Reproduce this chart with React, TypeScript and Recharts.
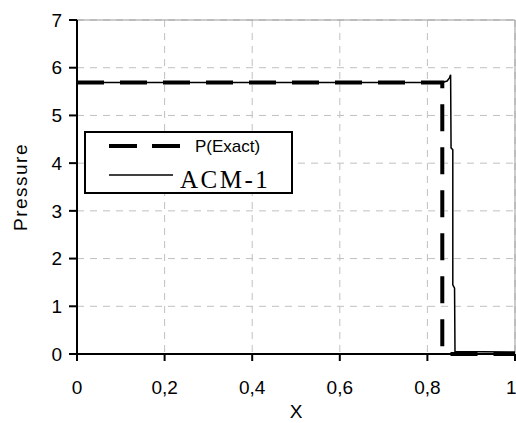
import React from 'react';
import { LineChart, Line, XAxis, YAxis, CartesianGrid, Legend, ReferenceLine } from 'recharts';

// exact solution: flat plateau then a sharp drop at the front
const exactX = [0, 0.834, 0.834, 1];
const exactP = [5.69, 5.69, 0, 0];

// ACM-1 numerical result, small overshoot just before the front
const acmX = [0, 0.834, 0.845, 0.85, 0.853, 0.854, 0.858, 0.858, 0.862, 0.863, 1];
const acmP = [5.69, 5.69, 5.72, 5.78, 5.85, 4.32, 4.28, 1.45, 1.38, 0.05, 0.04];

const xTicks = [0, 0.2, 0.4, 0.6, 0.8, 1];
const yTicks = [0, 1, 2, 3, 4, 5, 6, 7];

const seriesNames = ['P(Exact)', 'ACM-1'];

const exactData = exactX.map((x, i) => ({ x, p: exactP[i] }));
const acmData = acmX.map((x, i) => ({ x, p: acmP[i] }));

const sans = '"Liberation Sans", Arial, sans-serif';
const serif = '"Liberation Serif", "Times New Roman", serif';

const LegendBox = () => (
    <svg width={209} height={63} style={{ display: 'block' }}>
        <rect x={1} y={1} width={207} height={61} fill="#fff" stroke="#000" strokeWidth={2} />
        <line x1={25} x2={97} y1={15} y2={15} stroke="#000" strokeWidth={4} strokeDasharray="28 15" />
        <text x={111} y={15} dominantBaseline="central" fontFamily={sans} fontSize={17}>
            {seriesNames[0]}
        </text>
        <line x1={25} x2={89} y1={44} y2={44} stroke="#000" strokeWidth={1.5} />
        <text x={96} y={57} fontFamily={serif} fontSize={25} letterSpacing={2.5}>
            {seriesNames[1]}
        </text>
    </svg>
);

const App = () => {
    return (
        <div style={{ position: 'absolute', left: 0, top: 0, width: 516, height: 423, background: '#fff' }}>
            <LineChart width={516} height={423} margin={{ top: 20, right: 1, left: 0, bottom: 0 }}>
                <CartesianGrid stroke="#c0c0c0" strokeDasharray="7 6" />
                <XAxis
                    dataKey="x"
                    type="number"
                    domain={[0, 1]}
                    ticks={xTicks}
                    allowDecimals
                    height={69}
                    stroke="#000"
                    strokeWidth={2}
                    tickSize={7}
                    tickMargin={20}
                    tick={{ fill: '#000', fontSize: 19, fontFamily: sans }}
                    tickFormatter={(v: number) => String(v).replace('.', ',')}
                    label={{
                        content: ({ viewBox }: any) => (
                            <text
                                x={viewBox.x + viewBox.width / 2}
                                y={418}
                                textAnchor="middle"
                                fontFamily={sans}
                                fontSize={19}
                                fill="#000"
                            >
                                X
                            </text>
                        )
                    }}
                />
                <YAxis
                    type="number"
                    domain={[0, 7]}
                    ticks={yTicks}
                    width={77}
                    stroke="#000"
                    strokeWidth={2}
                    tickSize={8}
                    tickMargin={7}
                    tick={{ fill: '#000', fontSize: 19, fontFamily: sans }}
                    label={{
                        content: ({ viewBox }: any) => {
                            const cy = viewBox.y + viewBox.height / 2;
                            return (
                                <text
                                    x={20}
                                    y={cy}
                                    transform={`rotate(-90 20 ${cy})`}
                                    textAnchor="middle"
                                    dominantBaseline="central"
                                    fontFamily={sans}
                                    fontSize={19}
                                    letterSpacing={1.5}
                                    fill="#000"
                                >
                                    Pressure
                                </text>
                            );
                        }
                    }}
                />
                <ReferenceLine y={7} stroke="#999" strokeWidth={1} />
                <ReferenceLine x={1} stroke="#999" strokeWidth={1} />
                <Legend
                    layout="vertical"
                    align="center"
                    verticalAlign="middle"
                    content={() => <LegendBox />}
                    wrapperStyle={{ left: 84, top: 131, width: 209, height: 63 }}
                />
                <Line
                    data={exactData}
                    dataKey="p"
                    name={seriesNames[0]}
                    type="linear"
                    stroke="#000"
                    strokeWidth={4}
                    strokeDasharray="27 16"
                    dot={false}
                    activeDot={false}
                    isAnimationActive={false}
                />
                <Line
                    data={acmData}
                    dataKey="p"
                    name={seriesNames[1]}
                    type="linear"
                    stroke="#000"
                    strokeWidth={1.5}
                    dot={false}
                    activeDot={false}
                    isAnimationActive={false}
                />
            </LineChart>
        </div>
    );
};

export default App;
